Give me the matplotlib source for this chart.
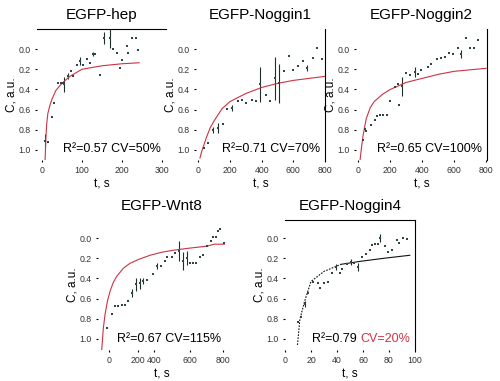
import matplotlib
matplotlib.use("Agg")
import matplotlib.pyplot as plt

plt.rcParams['font.family'] = ['Liberation Sans', 'DejaVu Sans']

W, H = 500, 381

# ---- data (t in s, C in a.u.) ----
hep_t = [8, 15, 25, 31, 41, 48, 54, 56, 65, 72, 79, 89, 95, 102, 112, 120, 129, 134,
         145, 154, 169, 177, 188, 195, 199, 212, 216, 224, 235, 241]
hep_c = [0.91, 0.92, 0.67, 0.53, 0.34, 0.34, 0.34, 0.35, 0.27, 0.22, 0.27, 0.16, 0.12, 0.16,
         0.10, 0.14, 0.05, 0.05, 0.26, -0.11, -0.11, 0.0, 0.04, 0.19, 0.11, -0.03, 0.04,
         -0.11, -0.11, 0.01]
hep_err = [0.065, 0, 0, 0, 0, 0, 0, 0.075, 0.03, 0, 0, 0, 0.04, 0, 0, 0, 0.02, 0,
           0, 0.06, 0.1, 0, 0, 0, 0, 0, 0, 0, 0, 0]
hep_fit_t = [8, 10, 12, 15, 20, 25, 35, 50, 70, 100, 150, 200, 243]
hep_fit_c = [1.12, 0.9, 0.75, 0.64, 0.56, 0.5, 0.41, 0.34, 0.27, 0.2, 0.165, 0.145, 0.135]

nog1_t = [36, 63, 95, 126, 154, 183, 211, 249, 274, 301, 337, 364, 390, 428, 453, 484,
          512, 541, 571, 600, 632, 663, 689, 722, 752, 779]
nog1_c = [0.98, 0.93, 0.80, 0.78, 0.74, 0.59, 0.58, 0.51, 0.50, 0.53, 0.50, 0.51, 0.35,
          0.45, 0.51, 0.29, 0.34, 0.22, 0.07, 0.21, 0.17, 0.12, 0.19, 0.09, -0.01, 0.10]
nog1_err = [0, 0, 0.03, 0.05, 0, 0, 0.03, 0, 0, 0, 0, 0, 0.17, 0, 0, 0.21, 0.19, 0, 0,
            0, 0, 0, 0.03, 0, 0, 0]
nog1_fit_t = [10, 20, 50, 75, 100, 150, 200, 300, 400, 500, 600, 700, 800]
nog1_fit_c = [1.08, 1.02, 0.88, 0.78, 0.71, 0.59, 0.52, 0.44, 0.38, 0.34, 0.31, 0.29, 0.27]

nog2_t = [27, 42, 48, 77, 104, 115, 135, 156, 177, 198, 229, 249, 255, 274, 297, 322,
          353, 374, 395, 436, 457, 492, 519, 540, 567, 592, 623, 644, 671, 696, 721, 748]
nog2_c = [0.90, 0.79, 0.81, 0.75, 0.70, 0.66, 0.65, 0.65, 0.65, 0.51, 0.38, 0.35, 0.55,
          0.37, 0.24, 0.26, 0.23, 0.25, 0.21, 0.18, 0.15, 0.10, 0.09, 0.08, 0.04, 0.05,
          -0.01, 0.05, -0.11, -0.01, -0.01, -0.09]
nog2_err = [0, 0, 0, 0, 0, 0, 0, 0, 0, 0, 0, 0, 0, 0.09, 0, 0, 0.05, 0, 0, 0, 0, 0, 0,
            0, 0, 0, 0, 0.04, 0, 0, 0, 0]
nog2_fit_t = [10, 20, 30, 50, 75, 100, 150, 200, 300, 400, 500, 600, 800]
nog2_fit_c = [1.12, 0.98, 0.86, 0.69, 0.58, 0.52, 0.45, 0.40, 0.33, 0.29, 0.25, 0.22, 0.19]

wnt_t = [-12, 19, 42, 65, 89, 112, 135, 159, 189, 218, 241, 269, 307, 339, 365, 393,
         409, 440, 463, 491, 517, 545, 568, 592, 611, 639, 662, 690, 714, 728, 751, 767,
         779, 809]
wnt_c = [0.89, 0.75, 0.67, 0.67, 0.66, 0.66, 0.62, 0.54, 0.46, 0.45, 0.43, 0.42, 0.36,
         0.28, 0.28, 0.23, 0.19, 0.19, 0.15, 0.13, 0.23, 0.20, 0.25, 0.25, 0.25, 0.19,
         0.17, 0.08, 0.03, -0.01, -0.01, -0.07, -0.09, 0.05]
wnt_err = [0, 0, 0, 0, 0, 0, 0, 0.04, 0.06, 0.05, 0.03, 0, 0, 0.03, 0, 0, 0, 0, 0, 0.1,
           0.09, 0.07, 0, 0, 0, 0, 0, 0, 0, 0, 0, 0, 0, 0]
wnt_fit_t = [-52, -40, -28, -10, 7, 30, 54, 100, 147, 210, 288, 370, 451, 560, 686, 740, 810]
wnt_fit_c = [1.13, 0.9, 0.76, 0.62, 0.53, 0.44, 0.38, 0.30, 0.25, 0.21, 0.17, 0.14, 0.12,
             0.10, 0.08, 0.06, 0.06]
# the original's tick labels sit unevenly on this axis
wnt_ticks = [0, 205, 315, 570, 800]
wnt_ticklabels = ['0', '200', '400', '600', '800']

nog4_t = [10, 12, 15, 18, 21.5, 25, 27, 30, 33, 36, 39, 42, 44, 47.5, 50.5, 53, 56, 59,
          62, 65, 67, 69.5, 71.5, 73, 77, 79.5, 82, 86, 88, 91, 94]
nog4_c = [0.83, 0.78, 0.65, 0.54, 0.44, 0.45, 0.49, 0.45, 0.44, 0.35, 0.29, 0.35, 0.31,
          0.26, 0.24, 0.25, 0.29, 0.19, 0.16, 0.12, 0.07, 0.06, 0.06, 0.0, 0.08, 0.14,
          0.12, 0.02, 0.05, 0.0, 0.01]
nog4_err = [0, 0, 0.03, 0, 0, 0, 0, 0, 0, 0, 0.03, 0, 0, 0, 0.03, 0, 0.04, 0, 0, 0, 0,
            0, 0, 0.04, 0, 0, 0, 0, 0, 0, 0]
nog4_fit_t = [9.6, 11.4, 15, 20, 30, 43, 58, 76, 96]
nog4_fit_c = [1.06, 0.81, 0.63, 0.43, 0.33, 0.26, 0.23, 0.20, 0.17]

titles = ['EGFP-hep', 'EGFP-Noggin1', 'EGFP-Noggin2', 'EGFP-Wnt8', 'EGFP-Noggin4']
r2_text = ['R²=0.57 CV=50%', 'R²=0.71 CV=70%', 'R²=0.65 CV=100%',
           'R²=0.67 CV=115%', 'CV=20%']
yticks = [0.0, 0.2, 0.4, 0.6, 0.8, 1.0]

DOT = '#2d4740'
RED = '#cc3344'


def box(l, t, r, b):
    return [l / W, 1 - b / H, (r - l) / W, (b - t) / H]


def panel(rect, t, c, err, ft, fc, xlim, xticks, title, r2, spines, fitcol=RED,
          ylim=(1.1, -0.2), r2col='black'):
    ax = fig.add_axes(rect)
    ax.errorbar(t, c, yerr=err, fmt='s', ms=2.0, color=DOT, ecolor='#1e2e2a',
                elinewidth=0.8, capsize=1.2, capthick=0.6, mew=0)
    ax.plot(ft, fc, color=fitcol, lw=0.8)
    ax.set_xlim(xlim)
    ax.set_ylim(ylim)
    ax.set_yticks(yticks)
    ax.set_yticklabels(['%.1f' % v for v in yticks])
    ax.set_xticks(xticks[0])
    ax.set_xticklabels(xticks[1])
    for s in ['left', 'right', 'top', 'bottom']:
        ax.spines[s].set_visible(s in spines)
        ax.spines[s].set_linewidth(0.8)
    ax.tick_params(labelsize=6.3, labelcolor='#333333', length=1.5, width=0.8, pad=3)
    ax.set_title(title, fontsize=11, pad=7)
    ax.set_xlabel('t, s', fontsize=8.5, labelpad=2)
    ax.set_ylabel('C, a.u.', fontsize=8.5, labelpad=1)
    txt = ax.text(0.96, 0.04, r2, transform=ax.transAxes, ha='right', va='bottom',
                  fontsize=9, color=r2col)
    return ax, txt


fig = plt.figure(figsize=(W / 100, H / 100), dpi=100)

panel(box(37, 29, 166, 160), hep_t, hep_c, hep_err, hep_fit_t, hep_fit_c, (-12, 310),
      ([0, 100, 200, 300], ['0', '100', '200', '300']), titles[0], r2_text[0], ['top'])

panel(box(196, 29, 325, 160), nog1_t, nog1_c, nog1_err, nog1_fit_t, nog1_fit_c, (-15, 800),
      ([0, 200, 400, 600, 800], ['0', '200', '400', '600', '800']), titles[1], r2_text[1],
      ['right'])

panel(box(356, 29, 487, 160), nog2_t, nog2_c, nog2_err, nog2_fit_t, nog2_fit_c, (-14, 805),
      ([0, 200, 400, 600, 800], ['0', '200', '400', '600', '800']), titles[2], r2_text[2],
      ['right'])

panel(box(98, 220, 226, 350), wnt_t, wnt_c, wnt_err, wnt_fit_t, wnt_fit_c, (-77, 821),
      (wnt_ticks, wnt_ticklabels), titles[3], r2_text[3], [], ylim=(1.11, -0.18))

# Noggin4: dotted start of the fit, then solid; CV part of the label in red
ax5, cv = panel(box(285, 220, 415, 350), nog4_t, nog4_c, nog4_err, nog4_fit_t[:6],
                nog4_fit_c[:6], (0, 100),
                ([0, 20, 40, 60, 80, 100], ['0', '20', '40', '60', '80', '100']),
                titles[4], r2_text[4], ['top', 'right'], fitcol='#111111',
                ylim=(1.11, -0.18), r2col=RED)
ax5.lines[-1].set_linestyle((0, (1.5, 1.2)))
ax5.plot(nog4_fit_t[5:], nog4_fit_c[5:], color='#111111', lw=0.8)
ax5.annotate('R²=0.79 ', xy=(0, 0), xycoords=cv, ha='right', va='bottom', fontsize=9)

fig.savefig('out.png', dpi=100)
